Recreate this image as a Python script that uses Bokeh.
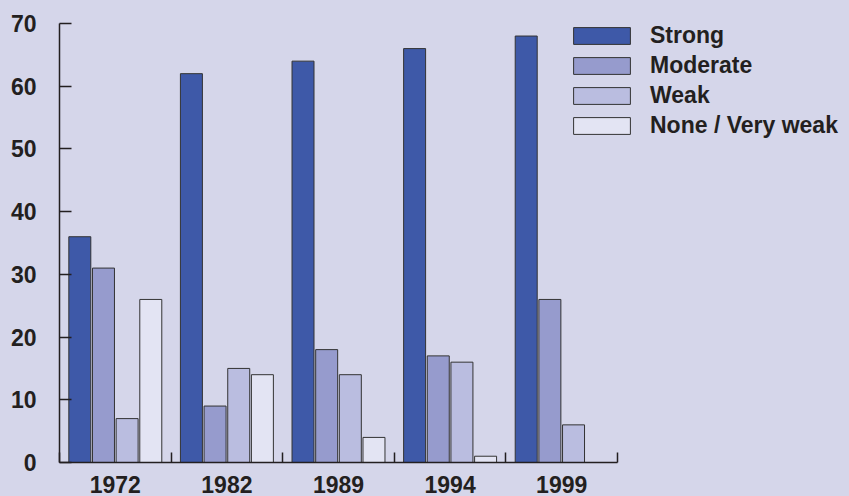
from bokeh.plotting import figure
from bokeh.models import ColumnDataSource, FixedTicker, Legend, LegendItem, Range1d
from bokeh.transform import dodge
from bokeh.embed import file_html
from bokeh.resources import INLINE
import numpy as np

# Survey years and the share (%) in each strength category
years = ["1972", "1982", "1989", "1994", "1999"]
strong = [36, 62, 64, 66, 68]
moderate = [31, 9, 18, 17, 26]
weak = [7, 15, 14, 16, 6]
none_very_weak = [26, 14, 4, 1, None]

series_names = ["Strong", "Moderate", "Weak", "None / Very weak"]
series_values = [strong, moderate, weak, none_very_weak]
colors = ["#3E59A8", "#969BCD", "#BABDE0", "#E3E4F3"]

bg = "#D5D6EA"
ink = "#231F20"
font = "Liberation Sans"
fsize = "23px"

idx = np.arange(len(years))
data = {"x": idx + 0.5}
for name, vals in zip(series_names, series_values):
    data[name] = [np.nan if v is None else v for v in vals]
source = ColumnDataSource(data)

# one group is 111.6 px wide; the frame runs on to the right edge so the legend fits inside it
p = figure(frame_width=790, frame_height=439, output_backend="svg", toolbar_location=None,
           x_range=Range1d(0, 790 / 111.6), y_range=Range1d(0, 70),
           min_border_left=59, min_border_right=0, min_border_top=23, min_border_bottom=34)
p.background_fill_color = bg
p.border_fill_color = bg
p.styles = {"background-color": bg}
p.outline_line_color = None
p.grid.visible = False

offsets = [-0.318, -0.106, 0.106, 0.318]
renderers = []
for name, off, col in zip(series_names, offsets, colors):
    r = p.vbar(x=dodge("x", off, range=p.x_range), top=name, width=0.197, bottom=0,
               source=source, fill_color=col, line_color="#333333", line_width=1)
    renderers.append(r)

# x axis: labels at group centres, ticks at group boundaries
xa = p.xaxis[0]
xa.ticker = FixedTicker(ticks=list(idx + 0.5), minor_ticks=list(range(len(years) + 1)))
xa.major_label_overrides = {float(i + 0.5): y for i, y in zip(idx, years)}
xa.bounds = (0, len(years))
xa.major_tick_in = 0
xa.major_tick_out = 0
xa.minor_tick_in = 10
xa.minor_tick_out = 0
xa.minor_tick_line_color = ink
xa.minor_tick_line_width = 1.5
xa.axis_line_color = ink
xa.axis_line_width = 1.5
xa.major_label_text_font = font
xa.major_label_text_font_style = "bold"
xa.major_label_text_font_size = fsize
xa.major_label_text_color = ink
xa.major_label_standoff = 13

ya = p.yaxis[0]
ya.ticker = FixedTicker(ticks=list(range(0, 71, 10)))
ya.major_tick_in = 12
ya.major_tick_out = 0
ya.minor_tick_in = 0
ya.minor_tick_out = 0
ya.major_tick_line_color = ink
ya.major_tick_line_width = 1.5
ya.axis_line_color = ink
ya.axis_line_width = 1.5
ya.major_label_text_font = font
ya.major_label_text_font_style = "bold"
ya.major_label_text_font_size = fsize
ya.major_label_text_color = ink
ya.major_label_standoff = 23

legend = Legend(items=[LegendItem(label=n, renderers=[r]) for n, r in zip(series_names, renderers)],
                location=(507, 323), padding=0, margin=0, spacing=3,
                glyph_width=71, glyph_height=21, label_height=21, label_standoff=13,
                label_text_font=font, label_text_font_style="bold",
                label_text_font_size=fsize, label_text_color=ink,
                border_line_alpha=0, background_fill_alpha=0)
p.add_layout(legend, "center")

open("out.html", "w").write(file_html(p, INLINE))
